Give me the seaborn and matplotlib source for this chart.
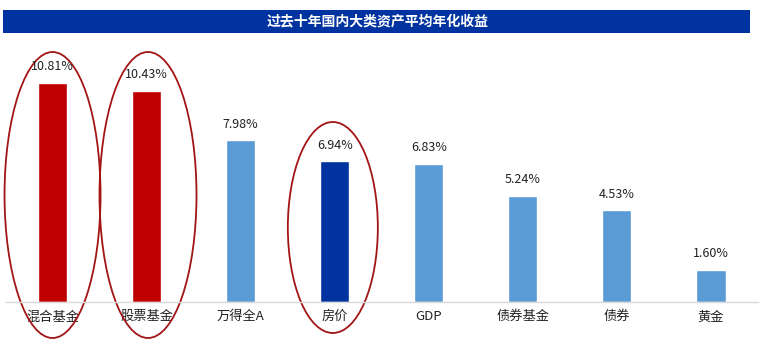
import matplotlib
matplotlib.use("Agg")
import matplotlib.pyplot as plt
from matplotlib.patches import Ellipse, Rectangle
import seaborn as sns
import pandas as pd

categories = ["混合基金", "股票基金", "万得全A", "房价", "GDP", "债券基金", "债券", "黄金"]
values = [10.81, 10.43, 7.98, 6.94, 6.83, 5.24, 4.53, 1.60]
bar_colors = ["#C00000", "#C00000", "#5B9BD5", "#0033A0", "#5B9BD5", "#5B9BD5", "#5B9BD5", "#5B9BD5"]
title = "过去十年国内大类资产平均年化收益"
highlighted = ["混合基金", "股票基金", "房价"]

sns.set_theme(style="white")
plt.rcParams["font.family"] = ["Noto Sans CJK SC", "DejaVu Sans"]

W, H = 764, 347
YMAX = 11.95
fig = plt.figure(figsize=(W / 100, H / 100), dpi=100)
ax_left, ax_right, ax_bottom, ax_top = 5.5, 758, 302, 60
ax = fig.add_axes([ax_left / W, 1 - ax_bottom / H, (ax_right - ax_left) / W, (ax_bottom - ax_top) / H])

df = pd.DataFrame({"cat": categories, "val": values})
sns.barplot(data=df, x="cat", y="val", hue="cat", palette=bar_colors, legend=False,
            width=0.31, ax=ax, saturation=1)
ax.set_ylim(0, YMAX)
ax.set_xlim(-0.5, len(categories) - 0.5)
ax.set_xlabel("")
ax.set_ylabel("")
ax.set_yticks([])
for s in ["left", "right", "top"]:
    ax.spines[s].set_visible(False)
ax.spines["bottom"].set_color("#D9D9D9")
ax.spines["bottom"].set_linewidth(1)
ax.tick_params(axis="x", length=0, pad=6, labelsize=9.5, labelcolor="#222222")

for i, v in enumerate(values):
    ax.annotate(f"{v:.2f}%", (i, v), xytext=(0, 7), textcoords="offset points",
                ha="center", va="bottom", fontsize=9, color="#222222")

# highlight ellipses (pixel sizes converted to data units)
px_x = (ax_right - ax_left) / len(categories)
px_y = (ax_bottom - ax_top) / YMAX
ell_specs = {"混合基金": (0.0, 195, 96, 286), "股票基金": (0.015, 195, 97, 286), "房价": (-0.02, 227.5, 90, 211)}
for name in highlighted:
    i = categories.index(name)
    dx, cy, w, h = ell_specs[name]
    e = Ellipse((i + dx, (ax_bottom - cy) / px_y), w / px_x, h / px_y,
                fill=False, edgecolor="#A31515", linewidth=1.3, clip_on=False)
    ax.add_patch(e)

# title bar
fig.patches.append(Rectangle((3 / W, 1 - 33 / H), 747 / W, 23 / H, transform=fig.transFigure,
                             facecolor="#0033A0", edgecolor="none", zorder=0))
fig.text(378 / W, 1 - 21.5 / H, title, ha="center", va="center", color="white",
         fontsize=10, fontweight="bold")

fig.savefig("out.png", dpi=100, facecolor="white")
